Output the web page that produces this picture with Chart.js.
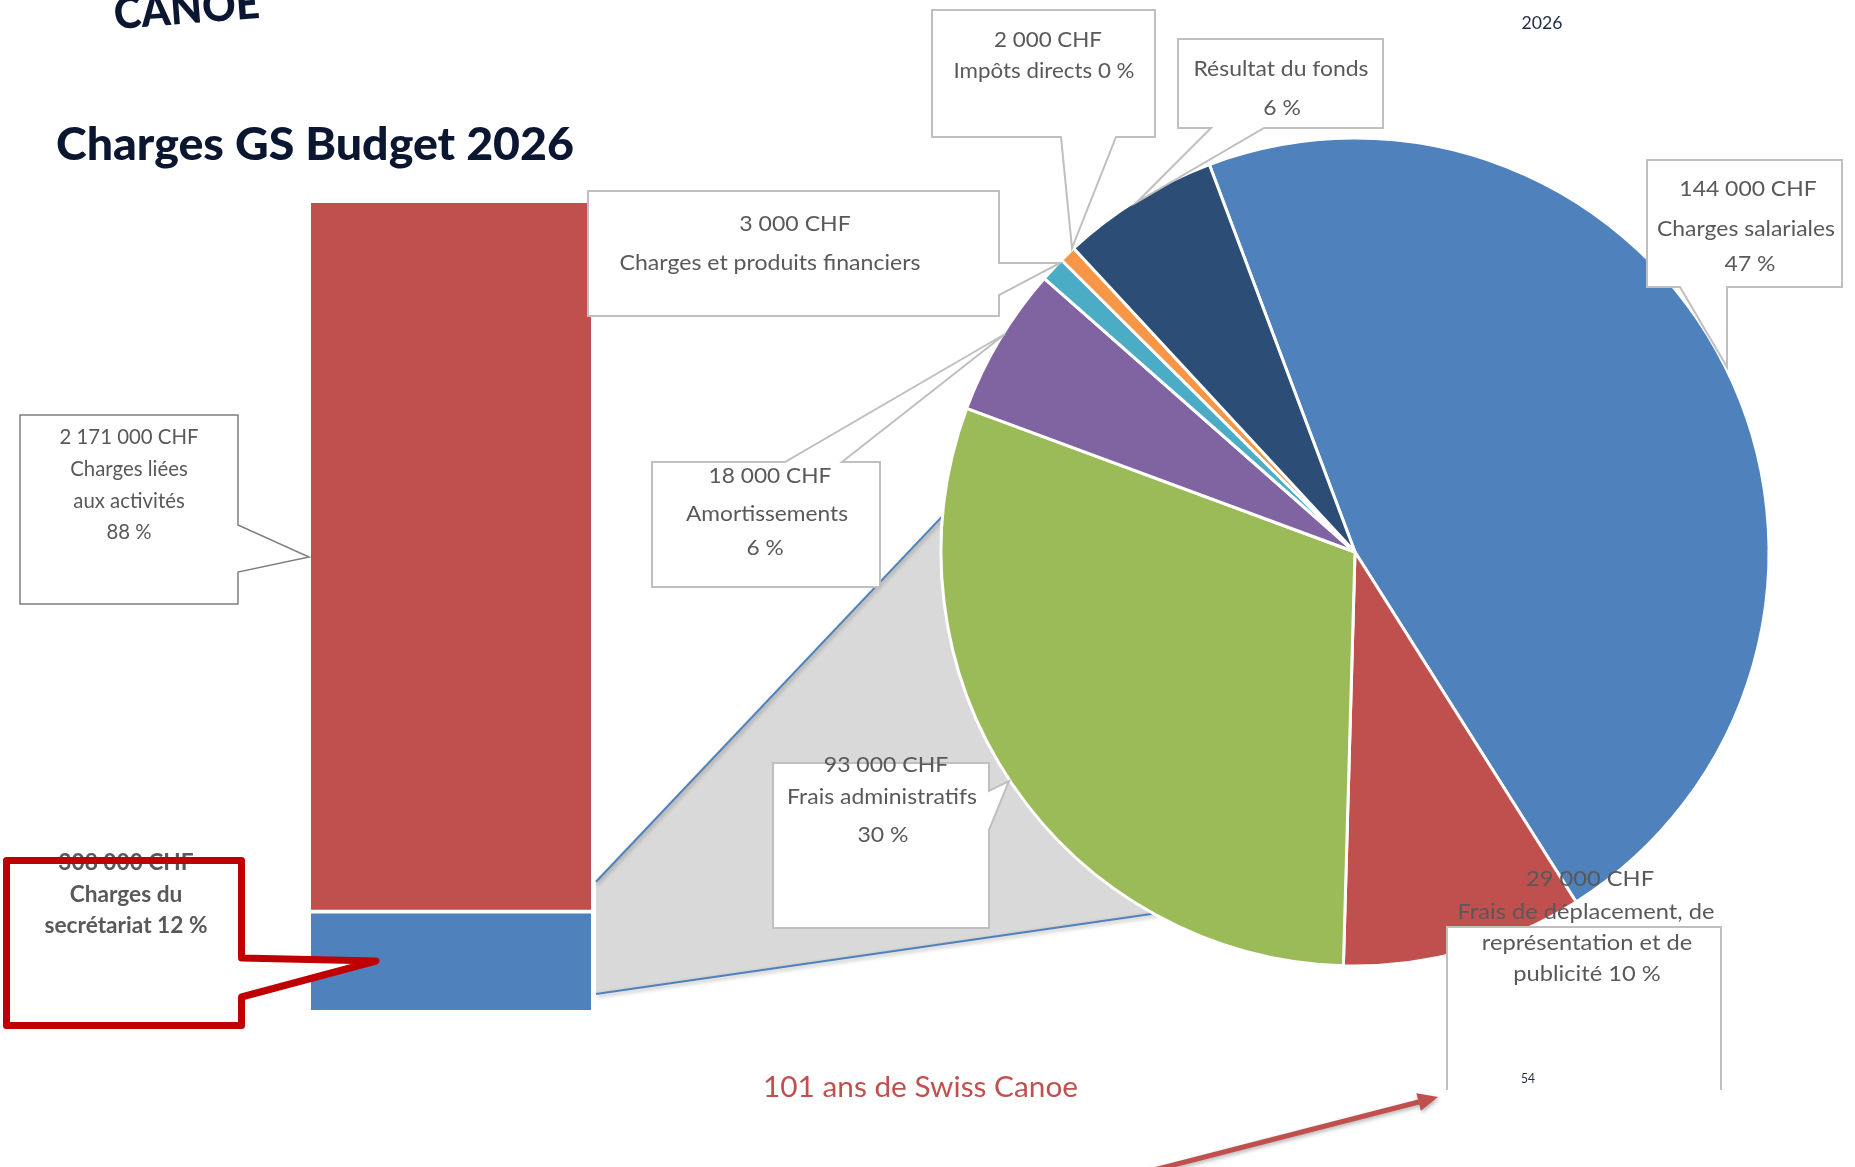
<!DOCTYPE html>
<html>
<head>
<meta charset="utf-8">
<script src="https://cdn.jsdelivr.net/npm/chart.js@4.4.1/dist/chart.umd.min.js"></script>
<style>
  html, body { margin: 0; padding: 0; background: #fff; }
  #page { position: relative; width: 1855px; height: 1167px; overflow: hidden; background: #fff; }
  #page canvas { position: absolute; }
</style>
</head>
<body>
<div id="page">
  <canvas id="under" width="1855" height="1167" style="left:0;top:0"></canvas>
  <canvas id="bar" width="280" height="807" style="left:311px;top:203px"></canvas>
  <canvas id="pie" width="900" height="900" style="left:905px;top:102px"></canvas>
  <canvas id="over" width="1855" height="1167" style="left:0;top:0"></canvas>
</div>
<script>
// --- data ---
const barCategories = ['Charges du\nsecrétariat', 'Charges liées\naux activités'];
const barValues = [308000, 2171000];
const barPercents = [12, 88];

const pieCategories = [
  'Charges salariales',
  'Frais de déplacement, de\nreprésentation et de\npublicité',
  'Frais administratifs',
  'Amortissements',
  'Charges et produits financiers',
  'Impôts directs',
  'Résultat du fonds',
];
const pieValues = [144000, 29000, 93000, 18000, 3000, 2000, 19000];
const piePercents = [47, 10, 30, 6, 1, 0, 6];

const barColors = ['#4F81BD', '#C0504D'];
const pieColors = ['#4F81BD', '#C0504D', '#9BBB59', '#8064A2', '#4BACC6', '#F79646', '#2C4D75'];

const TEXT_GREY = '#595959';
const NAVY = '#0B1631';
const FONT = 'Lato, "Open Sans", sans-serif';

const fmtCHF = v => String(v).replace(/\B(?=(\d{3})+(?!\d))/g, ' ') + ' CHF';

// callout boxes (Excel-style data labels), page coordinates
const callouts = [
  { src: 'bar', i: 1, tpl: '{v}\n{n}\n{p}',
    shape: [[20,415],[238,415],[238,525],[309,557],[238,572],[238,604],[20,604]],
    lines: [[129,436],[129,468],[129,500],[129,531]], fit: [0, 139], stroke: '#7F7F7F', lw: 1.5 },
  { src: 'bar', i: 0, tpl: '{v}\n{n} {p}', bold: true, textBeforeStroke: true,
    shape: [[6.5,860.5],[241.5,860.5],[241.5,958],[376,961],[241.5,997],[241.5,1025.5],[6.5,1025.5]],
    lines: [[126,862],[126,894],[126,925]], fit: [2, 163], stroke: '#C00000', lw: 7 },
  { src: 'pie', i: 4, tpl: '{v}\n{n}',
    shape: [[588,191],[999,191],[999,263],[1060,263],[999,295],[999,316],[588,316]],
    lines: [[795,223],[770,262]], fit: [1, 301] },
  { src: 'pie', i: 3, tpl: '{v}\n{n}\n{p}',
    shape: [[652,462],[785,462],[1005,334],[842,462],[880,462],[880,587],[652,587]],
    lines: [[770,475],[767,513],[765,547]], fit: [1, 162] },
  { src: 'pie', i: 5, tpl: '{v}\n{n} {p}',
    shape: [[932,10],[1155,10],[1155,137],[1116,137],[1072,248],[1061,137],[932,137]],
    lines: [[1048,39],[1044,70]], fit: [1, 181] },
  { src: 'pie', i: 6, tpl: '{n}\n{p}',
    shape: [[1178,39],[1383,39],[1383,128],[1264,128],[1137,202],[1211,128],[1178,128]],
    lines: [[1281,68],[1282,107]], fit: [0, 175] },
  { src: 'pie', i: 0, tpl: '{v}\n{n}\n{p}',
    shape: [[1647,160],[1842,160],[1842,287],[1727,287],[1727,367],[1680,287],[1647,287]],
    lines: [[1748,188],[1746,228],[1750,263]], fit: [1, 178] },
  { src: 'pie', i: 2, tpl: '{v}\n{n}\n{p}',
    shape: [[773,763],[989,763],[989,791],[1009,781],[989,830],[989,928],[773,928]],
    lines: [[886,764],[882,796],[883,834]], fit: [1, 190] },
  { src: 'pie', i: 1, tpl: '{v}\n{n} {p}', open: true,
    shape: [[1447,1090],[1447,927],[1721,927],[1721,1090]],
    lines: [[1590,878],[1586,911],[1587,942],[1587,973]], fit: [1, 257] },
];

// --- charts ---
const barTotal = barValues.reduce((a, b) => a + b, 0);

const barChart = new Chart(document.getElementById('bar'), {
  type: 'bar',
  data: {
    labels: [''],
    datasets: barValues.map((v, i) => ({
      label: barCategories[i],
      data: [v],
      backgroundColor: barColors[i],
      borderColor: '#FFFFFF',
      borderWidth: i === 0 ? { top: 4, right: 0, bottom: 0, left: 0 } : 0,
      borderSkipped: false,
      barPercentage: 1,
      categoryPercentage: 1,
    })),
  },
  options: {
    responsive: false,
    animation: false,
    events: [],
    layout: { padding: 0 },
    scales: {
      x: { display: false, stacked: true },
      y: { display: false, stacked: true, min: 0, max: barTotal },
    },
    plugins: { legend: { display: false }, tooltip: { enabled: false } },
  },
});

const pieChart = new Chart(document.getElementById('pie'), {
  type: 'pie',
  data: {
    labels: pieCategories,
    datasets: [{
      data: pieValues,
      backgroundColor: pieColors,
      borderColor: '#FFFFFF',
      borderWidth: 3,
    }],
  },
  options: {
    responsive: false,
    animation: false,
    events: [],
    rotation: -20.6,
    radius: 414,
    layout: { padding: 0 },
    plugins: { legend: { display: false }, tooltip: { enabled: false } },
  },
});

// --- helpers ---
function drawText(ctx, text, x, y, o) {
  ctx.save();
  ctx.font = o.font;
  ctx.fillStyle = o.color;
  ctx.textAlign = o.align || 'center';
  ctx.textBaseline = 'alphabetic';
  const sx = o.width ? o.width / ctx.measureText(text).width : (o.sx || 1);
  ctx.translate(x, y);
  if (o.rotate) ctx.rotate(o.rotate);
  ctx.scale(sx, 1);
  ctx.fillText(text, 0, 0);
  ctx.restore();
}

function calloutLines(c) {
  const src = c.src === 'bar'
    ? { n: barCategories, v: barValues, p: barPercents }
    : { n: pieCategories, v: pieValues, p: piePercents };
  return c.tpl
    .replace('{v}', fmtCHF(src.v[c.i]))
    .replace('{n}', src.n[c.i])
    .replace('{p}', src.p[c.i] + ' %')
    .split('\n');
}

function tracePath(ctx, pts, close) {
  ctx.beginPath();
  pts.forEach((p, k) => (k ? ctx.lineTo(p[0], p[1]) : ctx.moveTo(p[0], p[1])));
  if (close) ctx.closePath();
}

function drawBox(ctx, c) {
  ctx.save();
  ctx.fillStyle = '#FFFFFF';
  if (c.open) {
    const xs = c.shape.map(p => p[0]), ys = c.shape.map(p => p[1]);
    ctx.fillRect(Math.min(...xs), Math.min(...ys), Math.max(...xs) - Math.min(...xs), Math.max(...ys) - Math.min(...ys));
  } else {
    tracePath(ctx, c.shape, true);
    ctx.fill();
  }
  ctx.restore();
}

function strokeBox(ctx, c) {
  ctx.save();
  ctx.strokeStyle = c.stroke || '#BFBFBF';
  ctx.lineWidth = c.lw || 2;
  ctx.lineJoin = c.lw > 4 ? 'round' : 'miter';
  tracePath(ctx, c.shape, !c.open);
  ctx.stroke();
  ctx.restore();
}

function drawCalloutText(ctx, c) {
  const size = 22;
  const font = (c.bold ? 'bold ' : '') + size + 'px ' + FONT;
  const lines = calloutLines(c);
  ctx.font = font;
  const sx = c.fit[1] / ctx.measureText(lines[c.fit[0]]).width;
  lines.forEach((t, k) => {
    const [x, y] = c.lines[k];
    drawText(ctx, t, x, y + 0.38 * size, { font, color: TEXT_GREY, sx });
  });
}

// --- under layer: bar-of-pie connector ---
const under = document.getElementById('under').getContext('2d');
const barCanvas = document.getElementById('bar');
const pieCanvas = document.getElementById('pie');
const blueBar = barChart.getDatasetMeta(0).data[0];
const barRight = barCanvas.offsetLeft + blueBar.x + blueBar.width / 2;
const splitY = barCanvas.offsetTop + blueBar.y;
const baseY = barCanvas.offsetTop + blueBar.base;
const arc0 = pieChart.getDatasetMeta(0).data[0];
const pcx = pieCanvas.offsetLeft + arc0.x;
const pcy = pieCanvas.offsetTop + arc0.y;
const pr = arc0.outerRadius;
const onPie = (deg, rr) => [pcx + rr * Math.cos(deg * Math.PI / 180), pcy + rr * Math.sin(deg * Math.PI / 180)];

const upStart = [barRight + 5, splitY - 28];
const upEnd = onPie(-173.2, pr - 10);
const loStart = [barRight + 5, baseY - 16];
const loEnd = onPie(118.4, pr - 4);

under.fillStyle = '#D9D9D9';
tracePath(under, [upStart, upEnd, [pcx, pcy], loEnd, loStart], true);
under.fill();

under.save();
under.strokeStyle = '#4F81BD';
under.lineWidth = 2;
under.shadowColor = 'rgba(0,0,0,0.35)';
under.shadowBlur = 4;
under.shadowOffsetX = 1;
under.shadowOffsetY = 2;
tracePath(under, [upStart, upEnd]);
under.stroke();
tracePath(under, [loStart, loEnd]);
under.stroke();
under.restore();

// --- over layer: labels, title, decorations ---
const over = document.getElementById('over').getContext('2d');

callouts.forEach(c => {
  drawBox(over, c);
  if (c.textBeforeStroke) { drawCalloutText(over, c); strokeBox(over, c); }
  else { strokeBox(over, c); drawCalloutText(over, c); }
});

// logo fragment and title
drawText(over, 'CANOE', 115, 29, { font: '900 44px ' + FONT, color: NAVY, align: 'left', width: 146, rotate: -0.075 });
drawText(over, 'Charges GS Budget 2026', 56, 160, { font: '900 46px ' + FONT, color: NAVY, align: 'left', width: 518 });
drawText(over, '2026', 1542, 29, { font: '18px ' + FONT, color: '#1F2A44', width: 41 });
drawText(over, '54', 1528, 1083, { font: '12.5px ' + FONT, color: '#1F2A44', width: 14 });
drawText(over, '101 ans de Swiss Canoe', 763, 1097, { font: '29px ' + FONT, color: '#C0504D', align: 'left', width: 315 });

// red arrow
(function arrow(ctx, from, to) {
  const ang = Math.atan2(to[1] - from[1], to[0] - from[0]);
  const len = 20, half = 9;
  const back = [to[0] - len * Math.cos(ang), to[1] - len * Math.sin(ang)];
  ctx.save();
  ctx.strokeStyle = '#C0504D';
  ctx.fillStyle = '#C0504D';
  ctx.lineWidth = 5;
  ctx.shadowColor = 'rgba(0,0,0,0.3)';
  ctx.shadowBlur = 4;
  ctx.shadowOffsetX = 1;
  ctx.shadowOffsetY = 2;
  tracePath(ctx, [from, back]);
  ctx.stroke();
  tracePath(ctx, [
    to,
    [back[0] + half * Math.sin(ang), back[1] - half * Math.cos(ang)],
    [back[0] - half * Math.sin(ang), back[1] + half * Math.cos(ang)],
  ], true);
  ctx.fill();
  ctx.restore();
})(over, [1146, 1172], [1438, 1097]);
</script>
</body>
</html>
